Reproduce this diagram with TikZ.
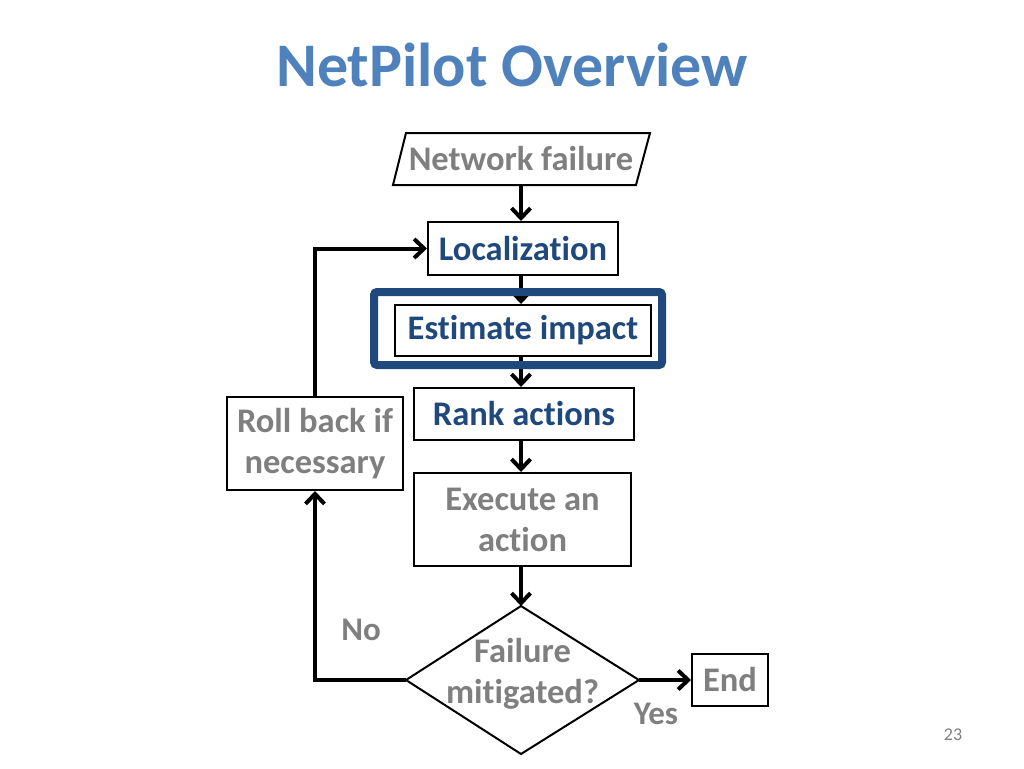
\documentclass[tikz,border=0pt]{standalone}
\usepackage{fontspec}
\setmainfont{Carlito}[Ligatures=NoCommon]
\usetikzlibrary{shapes.geometric,arrows.meta}
\definecolor{titleblue}{RGB}{79,129,189}
\definecolor{darkblue}{RGB}{31,73,125}
\definecolor{txtgray}{RGB}{127,127,127}
\begin{document}
\begin{tikzpicture}[x=1pt,y=-1pt,
  box/.style={draw=black,line width=2pt,fill=white,inner sep=0pt,align=center,font=\bfseries\fontsize{34.5}{41}\selectfont},
  bluetxt/.style={text=darkblue},
  graytxt/.style={text=txtgray},
  conn/.style={line width=4pt,-{Straight Barb[length=10pt,width=19pt,line width=4pt]}},
  lbl/.style={text=txtgray,font=\bfseries\fontsize{33}{38}\selectfont,inner sep=0pt}]
\useasboundingbox (0,0) rectangle (1024,768);
\node[text=titleblue,font=\bfseries\fontsize{62}{70}\selectfont] (title) at (512,65) {NetPilot Overview};
% parallelogram
\draw[line width=2pt,fill=white] (393,185) -- (406,133) -- (650,133) -- (636,185) -- cycle;
\node[inner sep=0pt,minimum width=230pt,minimum height=52pt,graytxt,font=\bfseries\fontsize{34.5}{41}\selectfont] (nf) at (521,159) {Network failure};
\node[box,bluetxt,minimum width=190pt,minimum height=53pt] (loc) at (523,248.5) {Localization};
\node[box,bluetxt,minimum width=256pt,minimum height=51pt] (est) at (523,330.5) {Estimate impact};
\node[box,bluetxt,minimum width=220pt,minimum height=52pt] (rank) at (524,414) {Rank actions};
\node[box,graytxt,minimum width=217pt,minimum height=93pt] (exec) at (522.5,519.5) {Execute an\\action};
\node[box,graytxt,minimum width=176pt,minimum height=93pt] (roll) at (315,443.5) {Roll back if\\necessary};
% decision diamond
\coordinate (dtop) at (521,606);
\coordinate (dleft) at (406,680);
\coordinate (dright) at (639,680);
\coordinate (dbot) at (521,754);
\draw[line width=2pt,fill=white] (dtop) -- (dright) -- (dbot) -- (dleft) -- cycle;
\node[graytxt,align=center,inner sep=0pt,font=\bfseries\fontsize{34.5}{41}\selectfont] (dec) at (522.5,674) {Failure\\mitigated?};
\node[box,graytxt,minimum width=76pt,minimum height=52pt] (end) at (730,680) {End};
\node[lbl] (yes) at (656,714) {Yes};
\node[lbl] (no) at (361,630) {No};
\node[text=txtgray,font=\fontsize{18}{20}\selectfont] (pg) at (953,735) {23};
% connectors
\coordinate (ax) at (521,0);
\draw[conn] (ax |- nf.south) -- (ax |- loc.north);
\draw[conn] (ax |- loc.south) -- (ax |- est.north);
\draw[conn] (ax |- est.south) -- (ax |- rank.north);
\draw[conn] (ax |- rank.south) -- (ax |- exec.north);
\draw[conn] (ax |- exec.south) -- (dtop);
\draw[conn] (dright) -- (end.west |- dright);
\coordinate (c1) at (roll.south |- dleft);
\coordinate (c2) at (roll.north |- loc.west);
\draw[conn] (dleft) -- (c1) -- (roll.south);
\draw[conn] (roll.north) -- (c2) -- (loc.west);
% highlight frame
\node[draw=darkblue,line width=8pt,rounded corners=3pt,minimum width=288pt,minimum height=73pt,inner sep=0pt] (frame) at (518,328.5) {};
\end{tikzpicture}
\end{document}
